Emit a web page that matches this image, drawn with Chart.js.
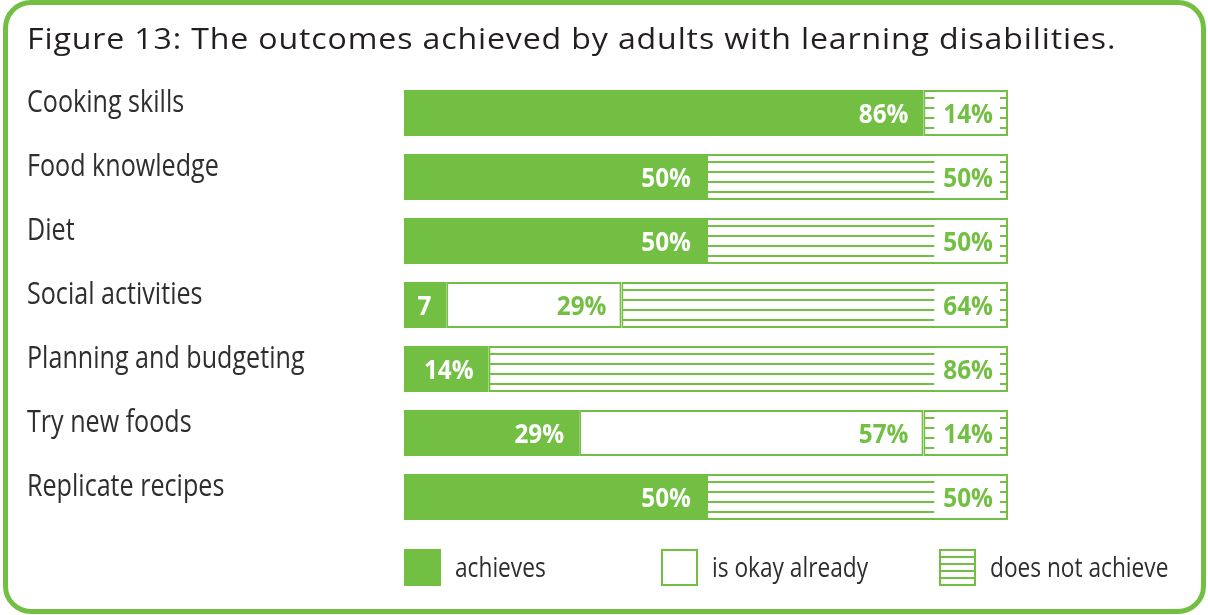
<!DOCTYPE html>
<html>
<head>
<meta charset="utf-8">
<script src="https://cdn.jsdelivr.net/npm/chart.js@4/dist/chart.umd.min.js"></script>
<style>
  html, body { margin: 0; padding: 0; background: #fff; }
  #wrap { position: relative; width: 1208px; height: 615px; }
  #frame {
    position: absolute; left: 3px; top: 0; width: 1203px; height: 614px;
    box-sizing: border-box; border: 5px solid #72bf44; border-radius: 28px;
    pointer-events: none;
  }
  canvas { display: block; }
</style>
</head>
<body>
<div id="wrap">
  <canvas id="chart" width="1208" height="615"></canvas>
  <div id="frame"></div>
</div>
<script>
// Outcomes per activity, in percent of adults
const categories = ['Cooking skills', 'Food knowledge', 'Diet', 'Social activities',
                    'Planning and budgeting', 'Try new foods', 'Replicate recipes'];
const achieves   = [86, 50, 50, 7, 14, 29, 50];
const okAlready  = [0, 0, 0, 29, 0, 57, 0];
const notAchieve = [14, 50, 50, 64, 86, 14, 50];
const seriesNames = ['achieves', 'is okay already', 'does not achieve'];
const titleText = 'Figure 13: The outcomes achieved by adults with learning disabilities.';

const GREEN = '#72bf44';
const TEXT = '#2e2e2e';
const FAMILY = "'Open Sans', 'Noto Sans', sans-serif";

// Text drawn with a horizontal scale around its anchor point
function scaledText(ctx, text, x, y, font, sx, align, color, spacing) {
  ctx.save();
  ctx.font = font;
  if (spacing) ctx.letterSpacing = spacing;
  ctx.fillStyle = color;
  ctx.textAlign = align;
  ctx.textBaseline = 'alphabetic';
  ctx.translate(x, y);
  ctx.scale(sx, 1);
  ctx.fillText(text, 0, 0);
  ctx.restore();
}

// Horizontal rules inside a box (used for "does not achieve")
function drawRules(ctx, left, right, top, height, count) {
  const gap = (height - 6) / count;
  ctx.save();
  ctx.strokeStyle = GREEN;
  ctx.lineWidth = 2;
  for (let k = 0; k < count; k++) {
    const y = Math.round(top + 8 + gap * k);
    ctx.beginPath();
    ctx.moveTo(left, y);
    ctx.lineTo(right, y);
    ctx.stroke();
  }
  ctx.restore();
}

const titlePlugin = {
  id: 'figureTitle',
  afterDraw(chart) {
    scaledText(chart.ctx, titleText, 27, 49, '400 30px ' + FAMILY, 1.07, 'left', '#231f20', '0.8px');
  }
};

const categoryPlugin = {
  id: 'categoryLabels',
  afterDraw(chart) {
    const y = chart.scales.y;
    y.ticks.forEach((t, i) => {
      const py = y.getPixelForTick(i);
      scaledText(chart.ctx, categories[i], y.left, py - 1, '31px ' + FAMILY, 0.81, 'left', TEXT);
    });
  }
};

const segmentPlugin = {
  id: 'segments',
  afterDatasetsDraw(chart) {
    const ctx = chart.ctx;
    // hatch the "does not achieve" bars
    chart.getDatasetMeta(2).data.forEach((bar, i) => {
      if (!chart.data.datasets[2].data[i]) return;
      const p = bar.getProps(['x', 'y', 'base', 'height'], true);
      const left = Math.min(p.x, p.base), right = Math.max(p.x, p.base);
      drawRules(ctx, left + 1, right - 1, p.y - p.height / 2, p.height, 4);
    });

    // value labels at the right end of each segment
    const font = 'bold 27px ' + FAMILY;
    const sx = 0.9;
    chart.data.datasets.forEach((ds, di) => {
      chart.getDatasetMeta(di).data.forEach((bar, i) => {
        const v = ds.data[i];
        if (!v) return;
        const p = bar.getProps(['x', 'y', 'base', 'height'], true);
        const left = Math.min(p.x, p.base), right = Math.max(p.x, p.base);
        const pad = 15;
        ctx.save();
        ctx.font = font;
        let text = v + '%';
        if (ctx.measureText(text).width * sx + pad > right - left) text = String(v);
        const w = ctx.measureText(text).width * sx;
        ctx.restore();
        const tx = right - pad;
        if (di === 2) {
          const top = p.y - p.height / 2;
          ctx.fillStyle = '#ffffff';
          ctx.fillRect(tx - w - 9, top + 2, w + 16, p.height - 4);
        }
        scaledText(ctx, text, tx, p.y + 10, font, sx, 'right', di === 0 ? '#ffffff' : GREEN);
      });
    });
  }
};

const legendPlugin = {
  id: 'customLegend',
  afterDraw(chart) {
    const ctx = chart.ctx;
    const a = chart.chartArea;
    const size = 37;
    const top = a.bottom + 20;
    const offsets = [0, 257, 535];
    offsets.forEach((off, i) => {
      const x = a.left + off;
      ctx.save();
      if (i === 0) {
        ctx.fillStyle = GREEN;
        ctx.fillRect(x, top, size, size);
      } else {
        ctx.strokeStyle = GREEN;
        ctx.lineWidth = 2;
        ctx.strokeRect(x + 1, top + 1, size - 2, size - 2);
        if (i === 2) {
          for (let k = 1; k <= 4; k++) {
            const y = Math.round(top + 1 + (size - 2) * k / 5);
            ctx.beginPath();
            ctx.moveTo(x + 1, y);
            ctx.lineTo(x + size - 1, y);
            ctx.stroke();
          }
        }
      }
      ctx.restore();
      scaledText(ctx, seriesNames[i], x + size + 14, top + 28, '27px ' + FAMILY, 0.84, 'left', TEXT);
    });
  }
};

new Chart(document.getElementById('chart'), {
  type: 'bar',
  data: {
    labels: categories,
    datasets: [
      { label: seriesNames[0], data: achieves, backgroundColor: GREEN, borderColor: GREEN, borderWidth: 0 },
      { label: seriesNames[1], data: okAlready, backgroundColor: '#ffffff', borderColor: GREEN, borderWidth: 2, borderSkipped: false },
      { label: seriesNames[2], data: notAchieve, backgroundColor: '#ffffff', borderColor: GREEN, borderWidth: 2, borderSkipped: false }
    ]
  },
  options: {
    indexAxis: 'y',
    responsive: false,
    animation: false,
    datasets: { bar: { barPercentage: 0.72, categoryPercentage: 1 } },
    layout: { padding: { left: 27, right: 200, top: 81, bottom: 86 } },
    scales: {
      x: { stacked: true, min: 0, max: 100, display: false },
      y: {
        stacked: true,
        grid: { display: false },
        border: { display: false },
        ticks: { display: false },
        afterFit(scale) { scale.width = 377; }
      }
    },
    plugins: {
      legend: { display: false },
      tooltip: { enabled: false },
      title: { display: false }
    }
  },
  plugins: [segmentPlugin, categoryPlugin, legendPlugin, titlePlugin]
});
</script>
</body>
</html>
